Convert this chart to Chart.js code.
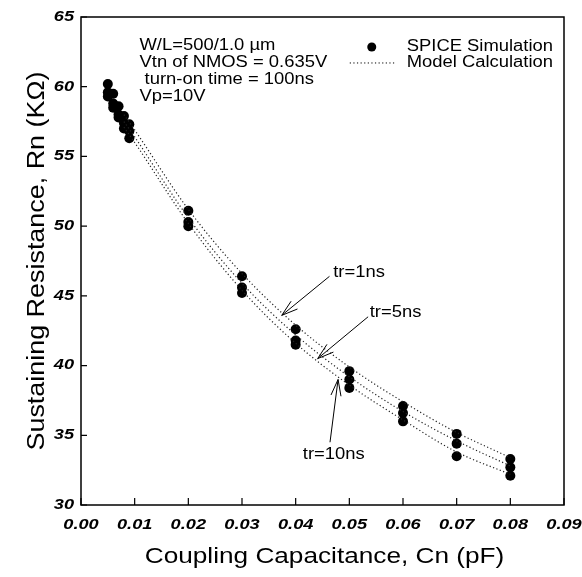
<!DOCTYPE html>
<html>
<head>
<meta charset="utf-8">
<script src="https://cdn.jsdelivr.net/npm/chart.js@4.4.1/dist/chart.umd.min.js"></script>
<style>
  html, body { margin: 0; padding: 0; background: #fff; }
  #wrap { width: 582px; height: 577px; }
</style>
</head>
<body>
<div id="wrap"><canvas id="chart" width="582" height="577"></canvas></div>
<script>
// SPICE points (pF -> kOhm)
const spiceX = [0.005, 0.006, 0.007, 0.008, 0.009, 0.02, 0.03, 0.04, 0.05, 0.06, 0.07, 0.08];
const spiceTr1 = [60.2, 59.5, 58.6, 57.9, 57.3, 51.1, 46.4, 42.6, 39.6, 37.1, 35.1, 33.3];
const spiceTr5 = [59.6, 58.8, 58.0, 57.4, 56.8, 50.3, 45.6, 41.8, 39.0, 36.6, 34.4, 32.7];
const spiceTr10 = [59.3, 58.5, 57.8, 57.0, 56.3, 50.0, 45.2, 41.5, 38.4, 36.0, 33.5, 32.1];

// model calculation curves
const modelX = [0.008, 0.01, 0.02, 0.03, 0.04, 0.05, 0.06, 0.07, 0.08];
const modelTr1 = [58.0, 56.9, 51.2, 46.6, 42.9, 39.9, 37.4, 35.2, 33.4];
const modelTr5 = [57.5, 56.4, 50.6, 45.9, 42.2, 39.2, 36.7, 34.6, 32.8];
const modelTr10 = [57.1, 56.0, 50.2, 45.4, 41.6, 38.6, 36.1, 33.8, 32.2];

const xTicks = [0, 0.01, 0.02, 0.03, 0.04, 0.05, 0.06, 0.07, 0.08, 0.09];
const yTicks = [30, 35, 40, 45, 50, 55, 60, 65];

const infoLines = ['W/L=500/1.0 \u00b5m', 'Vtn of NMOS = 0.635V', ' turn-on time = 100ns', 'Vp=10V'];

// arrow labels: text position, tail, tip (data units)
const arrows = [
    { label: 'tr=1ns', text: [0.0470, 46.7], tail: [0.0463, 46.4], tip: [0.0374, 43.6], align: 'left' },
    { label: 'tr=5ns', text: [0.0538, 43.8], tail: [0.0535, 43.5], tip: [0.0441, 40.5], align: 'left' },
    { label: 'tr=10ns', text: [0.0471, 33.6], tail: [0.0464, 34.5], tip: [0.0479, 39.0], align: 'center' }
];

const FONT = 'Arial, "Liberation Sans", sans-serif';

const pts = (xs, ys) => xs.map((x, i) => ({ x, y: ys[i] }));

const spiceSet = (ys) => ({
    data: pts(spiceX, ys), showLine: false, pointRadius: 5, pointHoverRadius: 5,
    pointBackgroundColor: '#000', pointBorderColor: '#000', borderWidth: 0
});
const modelSet = (ys) => ({
    data: pts(modelX, ys), showLine: true, borderColor: '#222', borderWidth: 1.2, borderDash: [1.2, 2.4],
    pointRadius: 0, cubicInterpolationMode: 'monotone', fill: false
});

// text is a bit wider in the scan, so stretch horizontally
function drawText(ctx, str, x, y, size, sx, align, style, rot) {
    ctx.save();
    ctx.translate(x, y);
    if (rot) ctx.rotate(rot);
    ctx.scale(sx, 1);
    ctx.font = (style || '') + ' ' + size + 'px ' + FONT;
    ctx.textAlign = align || 'left';
    ctx.textBaseline = 'middle';
    ctx.fillStyle = '#000';
    ctx.fillText(str, 0, 0);
    ctx.restore();
}

const framePlugin = {
    id: 'frame',
    afterDraw(chart) {
        const { ctx, chartArea: a, scales: { x, y } } = chart;
        ctx.save();
        ctx.strokeStyle = '#000';
        ctx.lineWidth = 1.5;
        ctx.strokeRect(a.left, a.top, a.right - a.left, a.bottom - a.top);
        ctx.lineWidth = 1.2;
        ctx.beginPath();
        yTicks.forEach(v => { const py = y.getPixelForValue(v); ctx.moveTo(a.left, py); ctx.lineTo(a.left + 6, py); });
        xTicks.forEach(v => { const px = x.getPixelForValue(v); ctx.moveTo(px, a.bottom); ctx.lineTo(px, a.bottom - 7); });
        ctx.stroke();

        // tick labels
        yTicks.forEach(v => drawText(ctx, String(v), a.left - 7, y.getPixelForValue(v), 14, 1.3, 'right', 'italic bold'));
        xTicks.forEach(v => drawText(ctx, v.toFixed(2), x.getPixelForValue(v), a.bottom + 20, 14, 1.3, 'center', 'italic bold'));

        // axis titles
        drawText(ctx, 'Coupling Capacitance, Cn (pF)', (a.left + a.right) / 2 + 2, a.bottom + 52, 22, 1.19, 'center');
        drawText(ctx, 'Sustaining Resistance, Rn (K\u03a9)', 38, (a.top + a.bottom) / 2, 23, 1.17, 'center', '', -Math.PI / 2);

        // info text block
        infoLines.forEach((t, i) => drawText(ctx, t, x.getPixelForValue(0.0109), y.getPixelForValue(62.95) + i * 17, 16, 1.15));

        // legend
        const lx = x.getPixelForValue(0.0607), ly = y.getPixelForValue(62.85);
        ctx.fillStyle = '#000';
        ctx.beginPath();
        ctx.arc(lx - 35, ly, 4.5, 0, Math.PI * 2);
        ctx.fill();
        drawText(ctx, 'SPICE Simulation', lx, ly, 16, 1.15);
        drawText(ctx, 'Model Calculation', lx, ly + 16, 16, 1.15);
        ctx.save();
        ctx.setLineDash([1.2, 2.4]);
        ctx.lineWidth = 1;
        ctx.beginPath();
        ctx.moveTo(lx - 57, ly + 16);
        ctx.lineTo(lx - 12, ly + 16);
        ctx.stroke();
        ctx.restore();

        // arrows
        ctx.lineWidth = 1;
        arrows.forEach(a2 => {
            const tx = x.getPixelForValue(a2.tail[0]), ty = y.getPixelForValue(a2.tail[1]);
            const hx = x.getPixelForValue(a2.tip[0]), hy = y.getPixelForValue(a2.tip[1]);
            const ang = Math.atan2(hy - ty, hx - tx);
            ctx.beginPath();
            ctx.moveTo(tx, ty); ctx.lineTo(hx, hy);
            [0.3, -0.3].forEach(d => {
                ctx.moveTo(hx, hy);
                ctx.lineTo(hx - 17 * Math.cos(ang + d), hy - 17 * Math.sin(ang + d));
            });
            ctx.stroke();
            drawText(ctx, a2.label, x.getPixelForValue(a2.text[0]), y.getPixelForValue(a2.text[1]), 16, 1.15, a2.align);
        });
        ctx.restore();
    }
};

new Chart(document.getElementById('chart'), {
    type: 'scatter',
    data: {
        datasets: [
            modelSet(modelTr1), modelSet(modelTr5), modelSet(modelTr10),
            spiceSet(spiceTr1), spiceSet(spiceTr5), spiceSet(spiceTr10)
        ]
    },
    options: {
        responsive: false,
        animation: false,
        layout: { padding: { top: 17, right: 18, left: 0, bottom: 0 } },
        plugins: { legend: { display: false }, tooltip: { enabled: false } },
        scales: {
            x: {
                type: 'linear', min: 0, max: 0.09,
                afterBuildTicks: s => { s.ticks = xTicks.map(v => ({ value: v })); },
                afterFit: s => { s.height = 72; },
                grid: { display: false },
                border: { display: false },
                ticks: { display: false }
            },
            y: {
                type: 'linear', min: 30, max: 65,
                afterBuildTicks: s => { s.ticks = yTicks.map(v => ({ value: v })); },
                afterFit: s => { s.width = 81; },
                grid: { display: false },
                border: { display: false },
                ticks: { display: false }
            }
        }
    },
    plugins: [framePlugin]
});
</script>
</body>
</html>
